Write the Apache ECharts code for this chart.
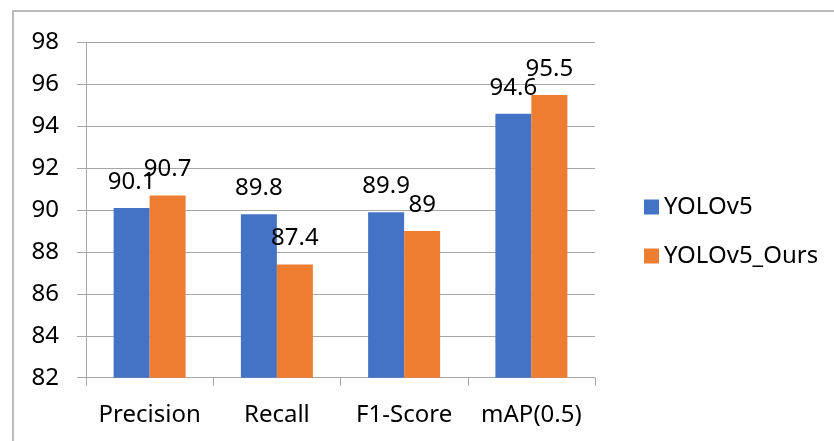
<!DOCTYPE html>
<html>
<head>
<meta charset="utf-8">
<script src="https://cdn.jsdelivr.net/npm/echarts@6/dist/echarts.min.js"></script>
<style>
  html, body { margin: 0; padding: 0; background: #fff; }
  #chart { width: 834px; height: 441px; }
</style>
</head>
<body>
<div id="chart"></div>
<script>
// Detection metrics for the baseline and the improved model
const categories = ['Precision', 'Recall', 'F1-Score', 'mAP(0.5)'];
const yoloV5 = [90.1, 89.8, 89.9, 94.6];
const yoloV5Ours = [90.7, 87.4, 89, 95.5];
const seriesNames = ['YOLOv5', 'YOLOv5_Ours'];

const FONT = 'Noto Sans';
const chart = echarts.init(document.getElementById('chart'));

const valueLabel = {
  show: true,
  position: 'top',
  distance: 14,
  color: '#000',
  fontFamily: FONT,
  fontSize: 24
};

chart.setOption({
  animation: false,
  backgroundColor: '#fff',
  graphic: [{
    type: 'rect',
    shape: { x: 13, y: 11, width: 900, height: 500 },
    style: { fill: 'none', stroke: '#a6a6a6', lineWidth: 1.5 },
    z: 0
  }],
  grid: { left: 86, right: 239, top: 42.5, bottom: 63.3 },
  legend: {
    orient: 'vertical',
    left: 639,
    top: 190,
    itemWidth: 15,
    itemHeight: 15,
    itemGap: 25,
    icon: 'rect',
    textStyle: { fontFamily: FONT, fontSize: 24, color: '#000', padding: [0, 0, 0, 0] },
    data: seriesNames
  },
  xAxis: {
    type: 'category',
    data: categories,
    axisLine: { lineStyle: { color: '#a6a6a6', width: 1 } },
    axisTick: { show: true, length: 8, alignWithLabel: false, lineStyle: { color: '#a6a6a6' } },
    axisLabel: { interval: 0, fontFamily: FONT, fontSize: 24, color: '#000', margin: 25 }
  },
  yAxis: {
    type: 'value',
    min: 82,
    max: 98,
    interval: 2,
    axisLine: { show: true, lineStyle: { color: '#a6a6a6', width: 1 } },
    axisTick: { show: true, length: 9, lineStyle: { color: '#a6a6a6' } },
    splitLine: { lineStyle: { color: '#a6a6a6', width: 1 } },
    axisLabel: { fontFamily: FONT, fontSize: 24, color: '#000', margin: 27 }
  },
  series: [
    {
      name: seriesNames[0],
      type: 'bar',
      data: yoloV5,
      barWidth: 36,
      barGap: '0%',
      itemStyle: { color: '#4472C4' },
      label: valueLabel
    },
    {
      name: seriesNames[1],
      type: 'bar',
      data: yoloV5Ours,
      barWidth: 36,
      barGap: '0%',
      itemStyle: { color: '#ED7D31' },
      label: valueLabel
    }
  ]
});
</script>
</body>
</html>
